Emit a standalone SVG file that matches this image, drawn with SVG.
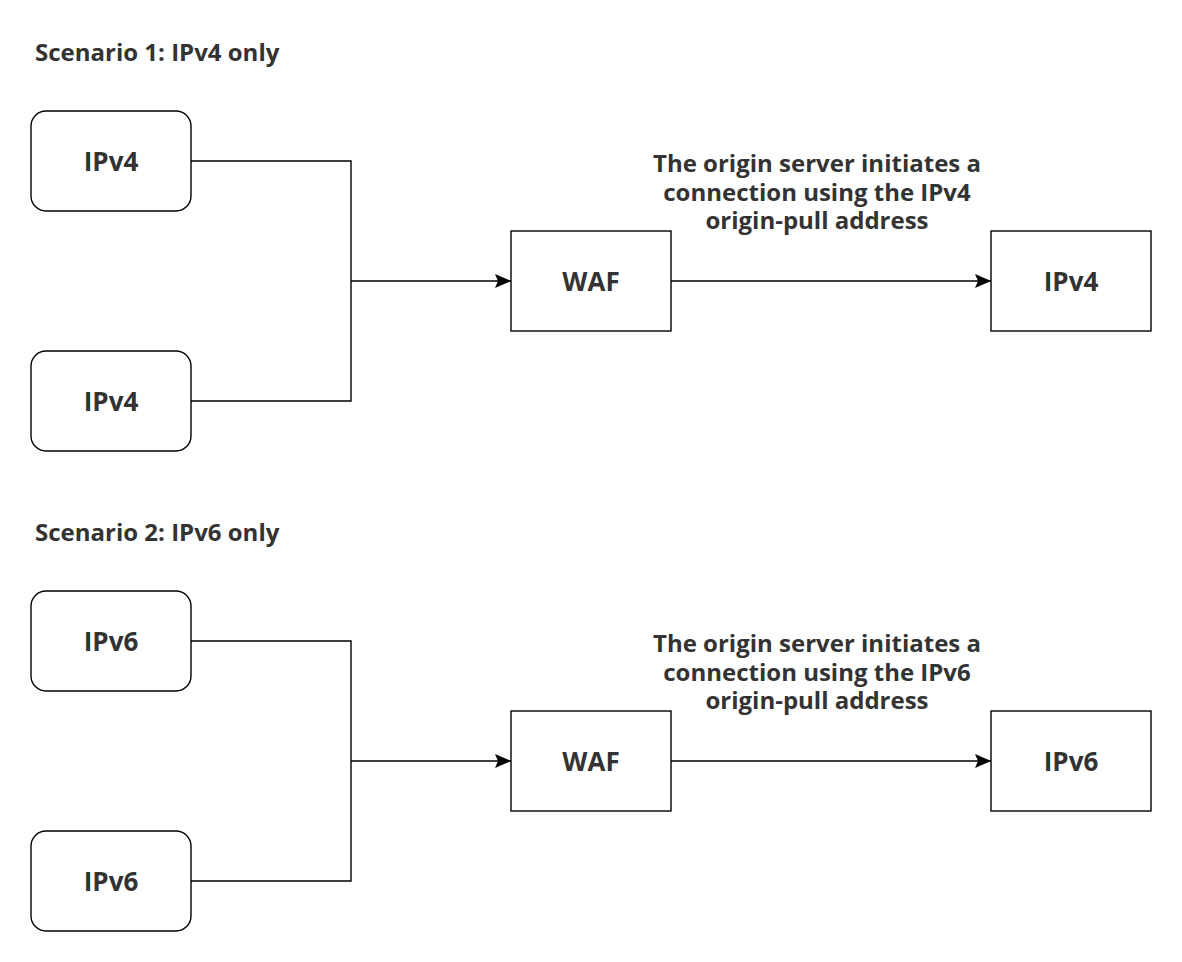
<svg xmlns="http://www.w3.org/2000/svg" width="1182" height="962" viewBox="0 0 1182 962">
<defs>
<marker id="arr" markerWidth="17" markerHeight="16" refX="16" refY="8" orient="auto" markerUnits="userSpaceOnUse">
<path d="M0,1 L16,8 L0,15 L3,8 Z" fill="#000"/>
</marker>
<style>
.node{fill:#fff;stroke:#000;stroke-width:1.4}
.t{font-family:"Open Sans","Noto Sans","Liberation Sans",sans-serif;font-weight:bold;fill:#333;text-anchor:middle;font-size:24px}
.n{font-size:26px}
.title{font-family:"Open Sans","Noto Sans","Liberation Sans",sans-serif;font-weight:bold;fill:#333;font-size:24px}
.c{fill:none;stroke:#000;stroke-width:1.4}
</style>
</defs>
<rect width="1182" height="962" fill="#fff"/>
<text class="title" x="35" y="61">Scenario 1: IPv4 only</text>
<text class="title" x="35" y="541">Scenario 2: IPv6 only</text>
<g id="connectors">
<polyline class="c" points="191,161 351,161 351,401 191,401"/>
<line class="c" x1="351" y1="281" x2="511" y2="281" marker-end="url(#arr)"/>
<line class="c" x1="671" y1="281" x2="991" y2="281" marker-end="url(#arr)"/>
<polyline class="c" points="191,641 351,641 351,881 191,881"/>
<line class="c" x1="351" y1="761" x2="511" y2="761" marker-end="url(#arr)"/>
<line class="c" x1="671" y1="761" x2="991" y2="761" marker-end="url(#arr)"/>
</g>
<g id="label1">
<text class="t" x="817" y="172">The origin server initiates a</text>
<text class="t" x="817" y="201">connection using the IPv4</text>
<text class="t" x="817" y="229">origin-pull address</text>
</g>
<g id="label2">
<text class="t" x="817" y="652">The origin server initiates a</text>
<text class="t" x="817" y="681">connection using the IPv6</text>
<text class="t" x="817" y="709">origin-pull address</text>
</g>
<g id="s1-client1"><rect class="node" x="31" y="111" width="160" height="100" rx="15"/><text class="t n" x="111" y="171">IPv4</text></g>
<g id="s1-client2"><rect class="node" x="31" y="351" width="160" height="100" rx="15"/><text class="t n" x="111" y="411">IPv4</text></g>
<g id="s1-waf"><rect class="node" x="511" y="231" width="160" height="100"/><text class="t n" x="591" y="291">WAF</text></g>
<g id="s1-origin"><rect class="node" x="991" y="231" width="160" height="100"/><text class="t n" x="1071" y="291">IPv4</text></g>
<g id="s2-client1"><rect class="node" x="31" y="591" width="160" height="100" rx="15"/><text class="t n" x="111" y="651">IPv6</text></g>
<g id="s2-client2"><rect class="node" x="31" y="831" width="160" height="100" rx="15"/><text class="t n" x="111" y="891">IPv6</text></g>
<g id="s2-waf"><rect class="node" x="511" y="711" width="160" height="100"/><text class="t n" x="591" y="771">WAF</text></g>
<g id="s2-origin"><rect class="node" x="991" y="711" width="160" height="100"/><text class="t n" x="1071" y="771">IPv6</text></g>
</svg>
